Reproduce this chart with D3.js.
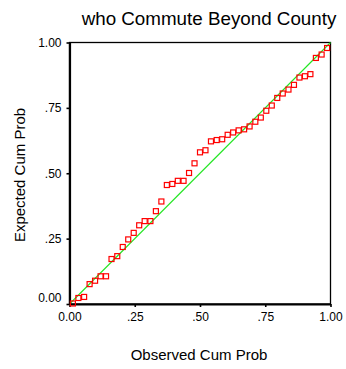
<!DOCTYPE html>
<html>
<head>
<meta charset="utf-8">
<script src="https://cdn.jsdelivr.net/npm/d3@7"></script>
<style>
  html, body { margin: 0; padding: 0; background: #fff; }
  svg { display: block; }
  text { font-family: Arial, "Liberation Sans", sans-serif; fill: #000; }
</style>
</head>
<body>
<svg id="chart" width="346" height="369"></svg>
<script>
// Normal P-P plot: observed vs. expected cumulative probability
const titleText = "who Commute Beyond County";
const xTitle = "Observed Cum Prob";
const yTitle = "Expected Cum Prob";

const tickValues = [0, 0.25, 0.5, 0.75, 1];
const tickLabels = ["0.00", ".25", ".50", ".75", "1.00"];

const observed = [
  0.013, 0.034, 0.056, 0.077, 0.098, 0.119, 0.140, 0.161, 0.183, 0.204,
  0.225, 0.246, 0.267, 0.288, 0.310, 0.331, 0.352, 0.373, 0.394, 0.415,
  0.437, 0.458, 0.479, 0.500, 0.521, 0.542, 0.564, 0.585, 0.606, 0.627,
  0.648, 0.669, 0.690, 0.712, 0.733, 0.754, 0.775, 0.796, 0.817, 0.839,
  0.860, 0.881, 0.902, 0.923, 0.944, 0.966, 0.987
];
const expected = [
  0.002, 0.023, 0.027, 0.076, 0.089, 0.106, 0.106, 0.172, 0.183, 0.218,
  0.247, 0.272, 0.301, 0.317, 0.317, 0.355, 0.392, 0.455, 0.459, 0.471,
  0.471, 0.501, 0.538, 0.580, 0.588, 0.622, 0.627, 0.630, 0.647, 0.656,
  0.664, 0.668, 0.679, 0.697, 0.713, 0.739, 0.759, 0.788, 0.805, 0.820,
  0.838, 0.866, 0.871, 0.879, 0.941, 0.954, 0.979
];
const refLine = [[0, 0], [1, 1]];

const svg = d3.select("#chart");
const plot = { left: 69.5, right: 330.5, top: 42.5, bottom: 304 };

const x = d3.scaleLinear().domain([0, 1]).range([plot.left, plot.right]);
const y = d3.scaleLinear().domain([0, 1]).range([plot.bottom, plot.top]);

// frame (top and right sides)
svg.append("rect")
  .attr("x", plot.left).attr("y", plot.top)
  .attr("width", plot.right - plot.left).attr("height", plot.bottom - plot.top)
  .attr("fill", "none").attr("stroke", "#000").attr("stroke-width", 1.3);

// reference diagonal
svg.append("path")
  .datum(refLine)
  .attr("d", d3.line().x(d => x(d[0])).y(d => y(d[1])))
  .attr("stroke", "#22e622").attr("stroke-width", 1.1).attr("fill", "none");

// axes
const fmt = d => tickLabels[tickValues.indexOf(d)];
const xAxis = svg.append("g")
  .attr("transform", `translate(0,${plot.bottom})`)
  .call(d3.axisBottom(x).tickValues(tickValues).tickFormat(fmt).tickSizeInner(3).tickSizeOuter(0).tickPadding(5));
const yAxis = svg.append("g")
  .attr("transform", `translate(${plot.left},0)`)
  .call(d3.axisLeft(y).tickValues(tickValues).tickFormat(fmt).tickSizeInner(3).tickSizeOuter(0).tickPadding(5));

[xAxis, yAxis].forEach(g => {
  g.select(".domain").attr("stroke", "#000").attr("stroke-width", 2.2);
  g.selectAll(".tick line").attr("stroke", "#000").attr("stroke-width", 1.6);
  g.selectAll(".tick text")
    .attr("font-size", 12)
    .attr("font-family", "Arial, 'Liberation Sans', sans-serif")
    .attr("fill", "#000");
});
// lowest y label sits a little above its tick
yAxis.selectAll(".tick").filter(d => d === 0).select("text").attr("dy", "-0.18em");

// points
svg.append("g").selectAll("rect")
  .data(observed.map((o, i) => [o, expected[i]]))
  .join("rect")
  .attr("x", d => x(d[0]) - 2.5)
  .attr("y", d => y(d[1]) - 2.5)
  .attr("width", 5).attr("height", 5)
  .attr("fill", "none")
  .attr("stroke", "#ff0000").attr("stroke-width", 1.2);

// titles
svg.append("text")
  .attr("x", 209).attr("y", 25)
  .attr("text-anchor", "middle").attr("font-size", 18.8)
  .text(titleText);
svg.append("text")
  .attr("x", 199).attr("y", 360)
  .attr("text-anchor", "middle").attr("font-size", 15)
  .text(xTitle);
svg.append("text")
  .attr("transform", "translate(25,175) rotate(-90)")
  .attr("text-anchor", "middle").attr("font-size", 15)
  .text(yTitle);
</script>
</body>
</html>
